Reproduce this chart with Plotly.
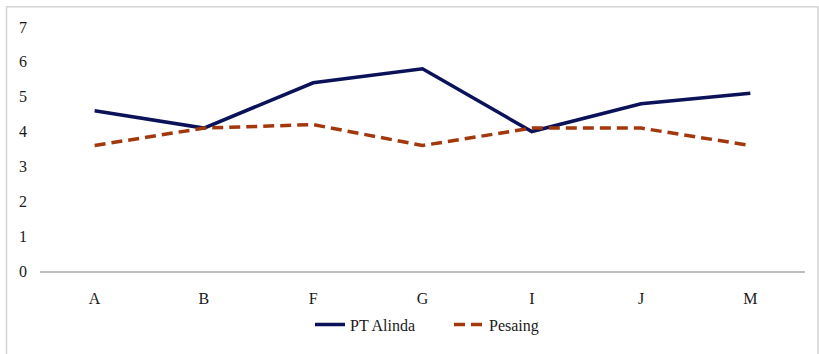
import plotly.graph_objects as go

categories = ["A", "B", "F", "G", "I", "J", "M"]
pt_alinda = [4.6, 4.1, 5.4, 5.8, 4.0, 4.8, 5.1]
pesaing = [3.6, 4.1, 4.2, 3.6, 4.1, 4.1, 3.6]
y_ticks = [0, 1, 2, 3, 4, 5, 6, 7]

W, H = 819, 354
L, R, T, B = 40, 14, 27, 81
pw, ph = W - L - R, H - T - B

SERIF = "'Times New Roman', 'Liberation Serif', 'DejaVu Serif', serif"

fig = go.Figure()
fig.add_trace(go.Scatter(
    x=categories, y=pt_alinda, name="PT Alinda", mode="lines",
    line=dict(color="#0b1259", width=3.5),
))
fig.add_trace(go.Scatter(
    x=categories, y=pesaing, name="Pesaing", mode="lines",
    line=dict(color="#a2380c", width=3.5, dash="11px,6px"),
))


def px_to_paper_x(px):
    return (px - L) / pw


def px_to_paper_y(py):
    return (H - B - py) / ph


# outer frame of the chart area
fig.add_shape(
    type="rect", xref="paper", yref="paper",
    x0=px_to_paper_x(6.5), x1=px_to_paper_x(818), y0=px_to_paper_y(360), y1=px_to_paper_y(6.5),
    line=dict(color="#d4d4d4", width=1.5), fillcolor="rgba(0,0,0,0)", layer="below",
)

fig.update_layout(
    width=W, height=H,
    margin=dict(l=L, r=R, t=T, b=B, pad=0),
    paper_bgcolor="white", plot_bgcolor="white",
    font=dict(family=SERIF, size=16, color="#1a1a1a"),
    showlegend=True,
    legend=dict(
        orientation="h", x=px_to_paper_x(310), xanchor="left", y=px_to_paper_y(327), yanchor="middle",
        font=dict(family=SERIF, size=16), entrywidth=94, entrywidthmode="pixels",
        tracegroupgap=0,
    ),
    xaxis=dict(
        type="category", range=[-0.5, 6.5], showgrid=False, zeroline=False,
        showline=True, linecolor="#bfbfbf", linewidth=1.5,
        ticks="", ticklabelstandoff=12,
    ),
    yaxis=dict(
        range=[0, 7], tickvals=y_ticks, showgrid=False, zeroline=False,
        showline=False, ticks="", ticklabelstandoff=12,
    ),
)

fig.write_html("out.html")
